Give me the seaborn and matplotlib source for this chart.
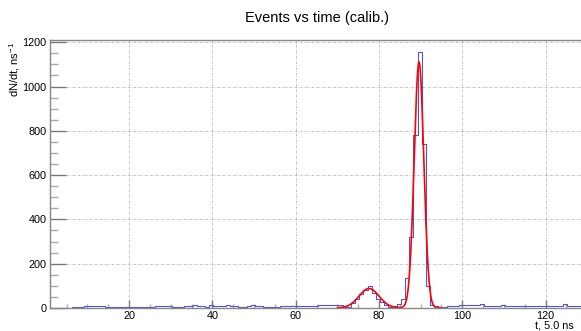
import numpy as np
import pandas as pd
import matplotlib
matplotlib.use("Agg")
import matplotlib.pyplot as plt
import seaborn as sns
from matplotlib.ticker import MultipleLocator

# ---- data ----
bin_start = 6.25          # left edge of first bin
bin_width = 1.0
counts = [5, 3, 3, 8, 11, 11, 8, 8, 5, 3,
          6, 6, 6, 6, 5, 5, 5, 5, 4, 4,
          8, 8, 8, 8, 5, 5, 5, 8, 8, 12,
          9, 9, 5, 15, 9, 9, 9, 12, 8, 8,
          5, 5, 11, 15, 8, 8, 3, 3, 5, 5,
          9, 11, 11, 11, 8, 7, 10, 8, 9, 14,
          14, 13, 12, 13, 13, 6, 6, 24, 42, 65,
          83, 98, 68, 42, 27, 15, 5, 8, 20, 42,
          135, 320, 780, 1155, 740, 100, 12, 8, 4, 5,
          8, 8, 8, 12, 12, 12, 12, 12, 20, 10,
          10, 10, 11, 12, 8, 8, 7, 9, 9, 10,
          10, 8, 7, 7, 9, 9, 9, 10, 16, 10,
          8, 8, 8]

# fit function parameters (double gaussian)
fit_range = (70.0, 95.0)
g1_amp, g1_mean, g1_sigma = 87.0, 77.6, 2.4
g2_amp, g2_mean, g2_sigma = 1110.0, 89.6, 1.15
fit_const = 1.0

title = "Events vs time (calib.)"
ylabel = "dN/dt, ns$^{-1}$"
xlabel = "t, 5.0 ns"

# ---- build ----
n = len(counts)
edges = [float(bin_start + bin_width * i) for i in range(n + 1)]
centers = [e + bin_width / 2 for e in edges[:-1]]
df = pd.DataFrame({"t": centers, "w": [float(c) for c in counts]})

fit_x = np.linspace(fit_range[0], fit_range[1], 600)
fit_y = (fit_const
         + g1_amp * np.exp(-0.5 * ((fit_x - g1_mean) / g1_sigma) ** 2)
         + g2_amp * np.exp(-0.5 * ((fit_x - g2_mean) / g2_sigma) ** 2))
fit_df = pd.DataFrame({"t": fit_x, "f": fit_y})

sns.set_theme(style="white")
plt.rcParams["font.family"] = ["Liberation Sans", "DejaVu Sans"]
plt.rcParams["mathtext.fontset"] = "custom"
plt.rcParams["mathtext.rm"] = "Liberation Sans"
plt.rcParams["mathtext.it"] = "Liberation Sans"
plt.rcParams["text.color"] = "black"

fig = plt.figure(figsize=(5.81, 3.31), dpi=100)
ax = fig.add_axes([50 / 581, 23 / 331, 531 / 581, 268 / 331])

sns.histplot(data=df, x="t", weights="w", bins=edges, element="step",
             fill=False, color="#5656cc", linewidth=0.8, ax=ax)
sns.lineplot(data=fit_df, x="t", y="f", color="red", linewidth=1.2, ax=ax)

ax.set_xlim(1, 128.5)
ax.set_ylim(0, 1210)
ax.set_xlabel("")
ax.set_ylabel("")

ax.xaxis.set_major_locator(MultipleLocator(20))
ax.xaxis.set_minor_locator(MultipleLocator(5))
ax.yaxis.set_major_locator(MultipleLocator(200))
ax.yaxis.set_minor_locator(MultipleLocator(50))

tc = "#777777"
ax.tick_params(axis="y", which="major", direction="in", length=11.5, width=1,
               color=tc, labelsize=7.8, labelcolor="black", pad=2.5, left=True, right=False)
ax.tick_params(axis="y", which="minor", direction="in", length=5.8, width=1,
               color="#aaaaaa", left=True, right=False)
ax.tick_params(axis="x", which="major", direction="in", length=5.8, width=1,
               color=tc, labelsize=7.8, labelcolor="black", pad=2.5, bottom=True, top=False)
ax.tick_params(axis="x", which="minor", direction="in", length=3, width=1,
               color="#aaaaaa", bottom=True, top=False)

ax.grid(True, which="major", linestyle=(0, (3, 2, 1, 2)), linewidth=0.5, color="#a0a0a0")
ax.set_axisbelow(True)

for s in ["left", "bottom", "top"]:
    ax.spines[s].set_color("#888888")
    ax.spines[s].set_linewidth(1.0)
ax.spines["right"].set_visible(False)

fig.text(317 / 581, 1 - 18 / 331, title, ha="center", va="center", fontsize=10.5)
fig.text(15 / 581, 1 - 42 / 331, ylabel, rotation=90, ha="center", va="top", fontsize=8)
fig.text(574 / 581, 1 - 326 / 331, xlabel, ha="right", va="center", fontsize=7.8)

fig.savefig("out.png", dpi=100)
